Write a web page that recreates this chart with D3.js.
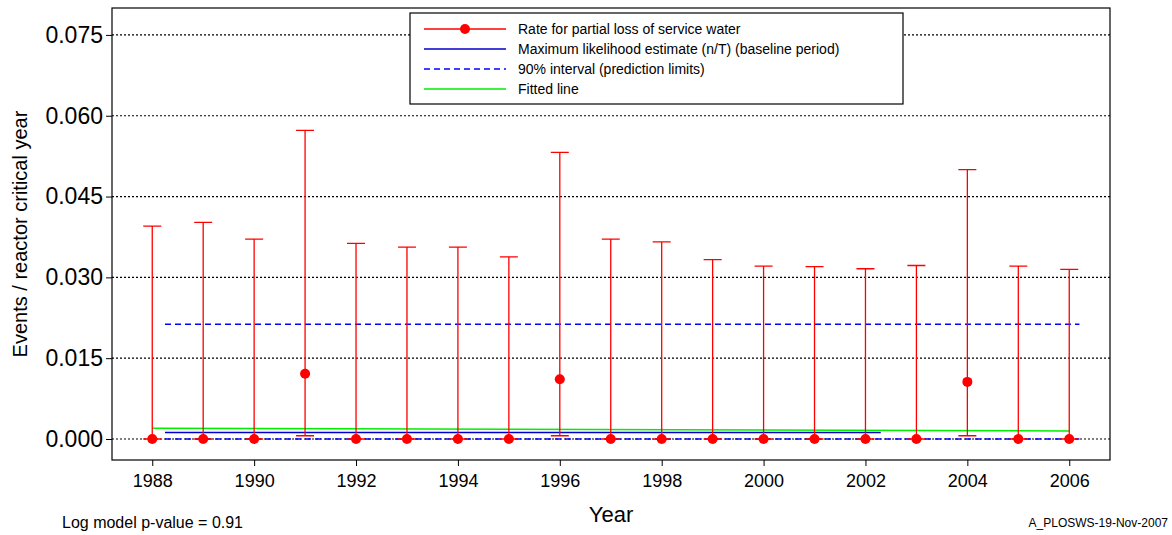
<!DOCTYPE html>
<html><head><meta charset="utf-8">
<script src="https://cdn.jsdelivr.net/npm/d3@7"></script>
<style>body{margin:0;background:#fff}text{font-family:Arial,"Liberation Sans",sans-serif}</style>
</head><body><svg width="1172" height="535"></svg>
<script>
var years = d3.range(1988, 2007);
var rates = [0,0,0,0.0121,0,0,0,0,0.0111,0,0,0,0,0,0,0,0.0106,0,0];
var lower = [0,0,0,0.0006,0,0,0,0,0.0006,0,0,0,0,0,0,0,0.0006,0,0];
var upper = [0.0395,0.0402,0.0371,0.0573,0.0363,0.0356,0.0356,0.0338,0.0532,0.0371,0.0366,0.0333,0.0321,0.0320,0.0316,0.0322,0.0500,0.0321,0.0315];
var mle = [[1988.25,0.0012],[2002.3,0.0012]];
var predUpper = [[1988.25,0.0213],[2006.2,0.0213]];
var predLower = [[1988.25,0.0],[2006.2,0.0]];
var fitted = [[1988,0.0020],[2006,0.0015]];
var yTicks = [0, 0.015, 0.03, 0.045, 0.06, 0.075];
var xTicks = d3.range(1988, 2007, 2);

var svg = d3.select('svg');
var L = 112, R = 1110, T = 8, B = 460;
var x = d3.scaleLinear().domain([1987.21, 2006.8]).range([L, R]);
var y = d3.scaleLinear().domain([-0.0039, 0.0800]).range([B, T]);

// gridlines
svg.selectAll('line.grid').data(yTicks).enter().append('line')
    .attr('x1', L).attr('x2', R).attr('y1', function(d) { return y(d); }).attr('y2', function(d) { return y(d); })
    .attr('stroke', '#000').attr('stroke-dasharray', '2,2').attr('stroke-width', 1.2);

var ax = svg.append('g').attr('transform', 'translate(0,' + B + ')')
    .call(d3.axisBottom(x).tickValues(xTicks).tickFormat(d3.format('d')).tickSize(6).tickSizeOuter(0));
ax.selectAll('text').attr('font-size', 18).attr('dy', '1em');
var ay = svg.append('g').attr('transform', 'translate(' + L + ',0)')
    .call(d3.axisLeft(y).tickValues(yTicks).tickFormat(d3.format('.3f')).tickSize(6).tickSizeOuter(0));
ay.selectAll('text').attr('font-size', 23);
svg.selectAll('.domain').remove();
svg.append('rect').attr('x', L).attr('y', T).attr('width', R - L).attr('height', B - T)
    .attr('fill', 'none').attr('stroke', '#000').attr('stroke-width', 1.2);

var line = d3.line().x(function(d) { return x(d[0]); }).y(function(d) { return y(d[1]); });
svg.append('path').attr('d', line(predUpper)).attr('stroke', '#00f').attr('stroke-width', 1.5).attr('stroke-dasharray', '6,4').attr('fill', 'none');
svg.append('path').attr('d', line(predLower)).attr('stroke', '#00f').attr('stroke-width', 1.5).attr('stroke-dasharray', '6,4').attr('fill', 'none');
svg.append('path').attr('d', line(mle)).attr('stroke', '#00c').attr('stroke-width', 1.5).attr('fill', 'none');
svg.append('path').attr('d', line(fitted)).attr('stroke', '#0e0').attr('stroke-width', 1.5).attr('fill', 'none');

// error bars
var g = svg.selectAll('g.bar').data(years).enter().append('g');
g.append('path').attr('stroke', '#f00').attr('stroke-width', 1.3).attr('fill', 'none').attr('d', function(d, i) {
    var cx = x(d), w = 9, lo = y(lower[i]), hi = y(upper[i]);
    return 'M' + cx + ',' + lo + 'V' + hi + 'M' + (cx - w) + ',' + hi + 'H' + (cx + w) +
        'M' + (cx - w) + ',' + lo + 'H' + (cx + w);
});
g.append('circle').attr('cx', function(d) { return x(d); }).attr('cy', function(d, i) { return y(rates[i]); })
    .attr('r', 5).attr('fill', '#f00');

// legend
var lg = svg.append('g').attr('transform', 'translate(410,13)');
lg.append('rect').attr('width', 493).attr('height', 91).attr('fill', '#fff').attr('stroke', '#000').attr('stroke-width', 1.2);
var items = [
    ['Rate for partial loss of service water', '#f00', null, true],
    ['Maximum likelihood estimate (n/T) (baseline period)', '#00c', null, false],
    ['90% interval (prediction limits)', '#00f', '6,4', false],
    ['Fitted line', '#0e0', null, false]
];
items.forEach(function(it, i) {
    var yy = 16 + i * 20;
    lg.append('line').attr('x1', 14).attr('x2', 96).attr('y1', yy).attr('y2', yy)
        .attr('stroke', it[1]).attr('stroke-width', 1.5).attr('stroke-dasharray', it[2]);
    if(it[3]) lg.append('circle').attr('cx', 55).attr('cy', yy).attr('r', 5).attr('fill', '#f00');
    lg.append('text').attr('x', 108).attr('y', yy + 5).attr('font-size', 14).text(it[0]);
});

svg.append('text').attr('x', 611).attr('y', 522).attr('text-anchor', 'middle').attr('font-size', 22).text('Year');
svg.append('text').attr('transform', 'translate(27,234) rotate(-90)').attr('text-anchor', 'middle')
    .attr('font-size', 20).text('Events / reactor critical year');
svg.append('text').attr('x', 62).attr('y', 528).attr('font-size', 16).text('Log model p-value = 0.91');
svg.append('text').attr('x', 1168).attr('y', 527).attr('text-anchor', 'end').attr('font-size', 12).text('A_PLOSWS-19-Nov-2007');
</script></body></html>
